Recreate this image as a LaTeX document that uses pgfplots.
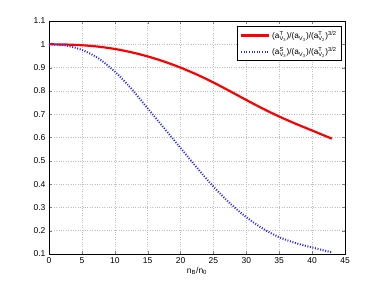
\documentclass[border=0pt]{standalone}
\usepackage{amsmath}
\usepackage{fontspec}
\setmainfont{Liberation Sans}
\usepackage{pgfplots}
\pgfplotsset{compat=1.18}
\newcommand\tx[1]{\text{#1}}
\begin{document}
\begin{tikzpicture}
\path[use as bounding box] (-49pt,-33pt) rectangle (333pt,254pt);
\begin{axis}[
  at={(0,0)}, anchor=south west,
  scale only axis, width=296pt, height=233pt,
  xmin=0, xmax=45, ymin=0.1, ymax=1.1,
  xtick={0,5,...,45},
  ytick={0.1,0.2,...,1.1},
  yticklabels={0.1,0.2,0.3,0.4,0.5,0.6,0.7,0.8,0.9,1,1.1},
  /pgf/number format/assume math mode=true,
  tick label style={font=\fontsize{8.5}{10}\selectfont},
  tick align=inside,
  tick pos=both,
  major tick length=3pt,
  grid=major,
  major grid style={gray!50, dotted, line width=0.5pt},
  axis line style={black, line width=0.6pt},
  xlabel={n\textsubscript{B}/n\textsubscript{0}},
  xlabel style={font=\fontsize{8.5}{10}\selectfont, yshift=3pt},
  legend style={at={(0.988,0.978)}, anchor=north east, font=\fontsize{8.2}{10}\selectfont,
    draw=black, line width=0.6pt, inner sep=2.5pt, row sep=3pt},
  legend cell align=left,
  legend image code/.code={\draw[#1] (0pt,0pt) -- (28pt,0pt);},
]
\addplot[red, line width=2.2pt, smooth] coordinates {
(0,1.0) (2.5,0.999) (5,0.996) (7.5,0.990) (10,0.980) (12.5,0.966) (15,0.948)
(17.5,0.926) (20,0.900) (22.5,0.870) (25,0.836) (27.5,0.799) (30,0.761)
(32.5,0.724) (35,0.690) (37.5,0.659) (40,0.630) (43,0.595)};
\addlegendentry{$\tx{(a}^{\tx{T}}_{\tx{V}_{\tx{3}}}\tx{)/(a}_{\tx{V}_{\tx{3}}}\tx{)/(a}^{\tx{T}}_{\tx{V}_{\tx{2}}}\tx{)}^{\tx{3/2}}$}
\addplot[blue!85, line width=2pt, dash pattern=on 1pt off 1.6pt, smooth] coordinates {
(0,1.0) (2.5,0.995) (5,0.976) (7.5,0.94) (10,0.883) (12.5,0.81) (15,0.725)
(17.5,0.64) (20,0.555) (22.5,0.47) (25,0.389) (27.5,0.318) (30,0.258)
(32.5,0.209) (35,0.172) (37.5,0.147) (40,0.128) (43,0.107)};
\addlegendentry{$\tx{(a}^{\tx{S}}_{\tx{V}_{\tx{3}}}\tx{)/(a}_{\tx{V}_{\tx{3}}}\tx{)/(a}^{\tx{T}}_{\tx{V}_{\tx{2}}}\tx{)}^{\tx{3/2}}$}
\end{axis}
\end{tikzpicture}
\end{document}
